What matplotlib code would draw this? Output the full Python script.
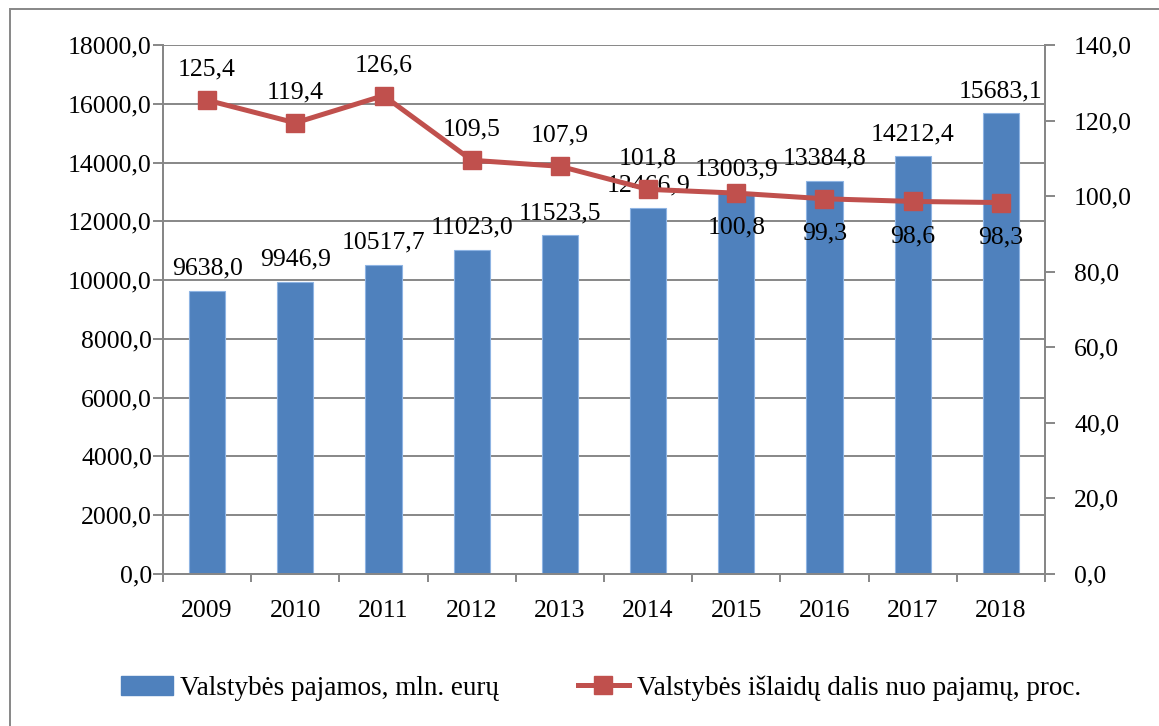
import matplotlib
matplotlib.use("Agg")
import matplotlib.pyplot as plt
from matplotlib.lines import Line2D
from matplotlib.patches import Patch, Rectangle
import numpy as np

years = ["2009", "2010", "2011", "2012", "2013", "2014", "2015", "2016", "2017", "2018"]
revenue = [9638.0, 9946.9, 10517.7, 11023.0, 11523.5, 12466.9, 13003.9, 13384.8, 14212.4, 15683.1]
share = [125.4, 119.4, 126.6, 109.5, 107.9, 101.8, 100.8, 99.3, 98.6, 98.3]
share_label_above = [True, True, True, True, True, True, False, False, False, False]

bar_label = "Valstybės pajamos, mln. eurų"
line_label = "Valstybės išlaidų dalis nuo pajamų, proc."

plt.rcParams['font.family'] = ['Liberation Serif', 'DejaVu Serif']
FS = 18.5
BLUE = "#4F81BD"
RED = "#C0504D"
GRID = "#878787"

def fmt(v):
    return f"{v:.1f}".replace(".", ",")

fig = plt.figure(figsize=(11.59, 7.26), dpi=100)
W, H = 1159, 726
ax = fig.add_axes([163 / W, 1 - 574 / H, (1045 - 163) / W, (574 - 45) / H])
ax2 = ax.twinx()

x = np.arange(len(years))
ax.bar(x, revenue, width=0.41, color=BLUE, edgecolor="#8EB4E3", linewidth=0.8, zorder=3)
ax.set_xlim(-0.5, len(years) - 0.5)
ax.set_ylim(0, 18000)
ax.set_yticks(np.arange(0, 18001, 2000))
ax.set_yticklabels([fmt(v) for v in np.arange(0, 18001, 2000)], fontsize=FS)
ax.yaxis.grid(True, color=GRID, linewidth=1.4, zorder=0)
ax.set_axisbelow(True)
ax.set_xticks(x)
ax.set_xticklabels(years, fontsize=FS)
ax.set_xticks(np.arange(-0.5, len(years), 1), minor=True)
ax.tick_params(axis="x", which="major", length=0, pad=19)
ax.tick_params(axis="x", which="minor", length=6, width=1.4, color=GRID, direction="out")
ax.tick_params(axis="y", length=7, width=1.4, color=GRID, direction="out", pad=1)

for s in ["left", "right", "bottom"]:
    ax.spines[s].set_color(GRID)
    ax.spines[s].set_linewidth(1.4)
ax.spines["top"].set_visible(False)
for s in ["left", "right", "bottom"]:
    ax2.spines[s].set_color(GRID)
    ax2.spines[s].set_linewidth(1.4)
ax2.spines["top"].set_visible(False)

for xi, v in zip(x, revenue):
    ax.annotate(fmt(v), (xi, v), xytext=(0, 8), textcoords="offset points",
                ha="center", va="bottom", fontsize=FS, zorder=5)

ax2.plot(x, share, color=RED, linewidth=3.6, marker="s", markersize=13,
         markerfacecolor=RED, markeredgecolor=RED, zorder=4)
ax2.set_ylim(0, 140)
ax2.set_yticks(np.arange(0, 141, 20))
ax2.set_yticklabels([fmt(v) for v in np.arange(0, 141, 20)], fontsize=FS)
ax2.tick_params(axis="y", length=7, width=1.4, color=GRID, direction="out", pad=14)

for xi, v, above in zip(x, share, share_label_above):
    if above:
        ax2.annotate(fmt(v), (xi, v), xytext=(0, 14), textcoords="offset points",
                     ha="center", va="bottom", fontsize=FS, zorder=6)
    else:
        ax2.annotate(fmt(v), (xi, v), xytext=(0, -17), textcoords="offset points",
                     ha="center", va="top", fontsize=FS, zorder=6)

handles = [Patch(facecolor=BLUE, edgecolor=BLUE),
           Line2D([0], [0], color=RED, linewidth=3.6, marker="s", markersize=13)]
fig.legend(handles, [bar_label, line_label], loc="center", ncol=2,
           bbox_to_anchor=(601 / W, 1 - 688 / H), frameon=False, fontsize=19.5,
           handlelength=1.9, handletextpad=0.28, columnspacing=2.9)

fig.patches.append(Rectangle((10 / W, -0.05), 1.1, 1 - 9 / H + 0.05, transform=fig.transFigure,
                             fill=False, edgecolor=GRID, linewidth=1.4, clip_on=False))

fig.savefig("out.png", dpi=100)
